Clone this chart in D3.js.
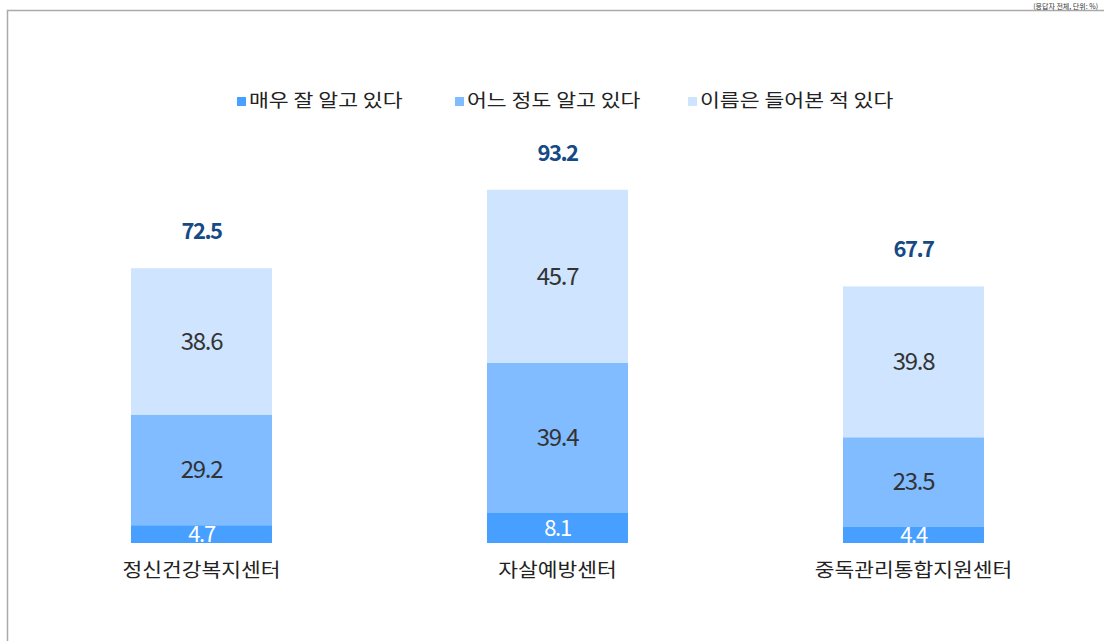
<!DOCTYPE html>
<html>
<head>
<meta charset="utf-8">
<script src="https://cdn.jsdelivr.net/npm/d3@7"></script>
<style>
  body { margin: 0; background: #fff; }
  text { font-family: "Noto Sans CJK KR", "Noto Sans", sans-serif; }
</style>
</head>
<body>
<div id="chart"></div>
<script>
const categories = ["정신건강복지센터", "자살예방센터", "중독관리통합지원센터"];
const seriesNames = ["매우 잘 알고 있다", "어느 정도 알고 있다", "이름은 들어본 적 있다"];
const veryWell = [4.7, 8.1, 4.4];
const somewhat = [29.2, 39.4, 23.5];
const heardOf = [38.6, 45.7, 39.8];
const totals = [72.5, 93.2, 67.7];
const colors = ["#47a0ff", "#80bcff", "#cfe4fe"];

const width = 1104, height = 641;
const baseY = 543;

const svg = d3.select("#chart").append("svg")
    .attr("width", width)
    .attr("height", height);

// stretch korean text a bit, the original font is wider
function widen(sel, k) {
    sel.each(function () {
        const len = this.getComputedTextLength();
        d3.select(this)
            .attr("textLength", len * k)
            .attr("lengthAdjust", "spacingAndGlyphs");
    });
}

// frame
svg.append("path")
    .attr("d", "M7.5," + height + " V10.5 H" + width)
    .attr("fill", "none")
    .attr("stroke", "#aaa")
    .attr("stroke-width", 1.5);

// unit note
svg.append("text")
    .attr("x", 1098)
    .attr("y", 8.5)
    .attr("text-anchor", "end")
    .attr("font-size", 7)
    .attr("fill", "#333")
    .text("(응답자 전체, 단위: %)");

const x = d3.scaleBand()
    .domain(categories)
    .range([23.5, 1091.5])
    .paddingInner(0.604)
    .paddingOuter(0.302);

const y = d3.scaleLinear()
    .domain([0, 100])
    .range([baseY, baseY - 379]);

const rows = categories.map((c, i) => ({
    category: c, s0: veryWell[i], s1: somewhat[i], s2: heardOf[i], total: totals[i]
}));

const stack = d3.stack().keys(["s0", "s1", "s2"]);
const layers = stack(rows);

const g = svg.append("g");

layers.forEach(function (layer, k) {
    g.selectAll(".seg" + k)
        .data(layer)
        .enter()
        .append("rect")
        .attr("x", d => x(d.data.category))
        .attr("y", d => y(d[1]))
        .attr("width", x.bandwidth())
        .attr("height", d => y(d[0]) - y(d[1]))
        .attr("fill", colors[k]);

    g.selectAll(".lab" + k)
        .data(layer)
        .enter()
        .append("text")
        .attr("x", d => x(d.data.category) + x.bandwidth() / 2)
        .attr("y", d => (y(d[0]) + y(d[1])) / 2)
        .attr("dy", "0.36em")
        .attr("text-anchor", "middle")
        .attr("font-size", k === 0 ? 22 : 24)
        .attr("letter-spacing", "-1.3px")
        .attr("fill", k === 0 ? "#fff" : "#333")
        .text(d => (d[1] - d[0]).toFixed(1));
});

// totals
g.selectAll(".total")
    .data(rows)
    .enter()
    .append("text")
    .attr("x", d => x(d.category) + x.bandwidth() / 2)
    .attr("y", d => y(d.total) - 37)
    .attr("dy", "0.36em")
    .attr("text-anchor", "middle")
    .attr("font-size", 22)
    .attr("font-weight", "bold")
    .attr("letter-spacing", "-1.5px")
    .attr("fill", "#154a84")
    .text(d => d.total.toFixed(1));

// category labels
g.selectAll(".cat")
    .data(categories)
    .enter()
    .append("text")
    .attr("x", d => x(d) + x.bandwidth() / 2)
    .attr("y", 570)
    .attr("dy", "0.36em")
    .attr("text-anchor", "middle")
    .attr("font-size", 19)
    .attr("fill", "#222")
    .text(d => d)
    .call(widen, 1.13);

// legend
const legendX = [237, 455, 688];
const legend = svg.append("g");
seriesNames.forEach(function (name, i) {
    legend.append("rect")
        .attr("x", legendX[i])
        .attr("y", 97)
        .attr("width", 9)
        .attr("height", 9)
        .attr("fill", colors[i]);
    legend.append("text")
        .attr("x", legendX[i] + 12)
        .attr("y", 101)
        .attr("dy", "0.36em")
        .attr("font-size", 18)
        .attr("fill", "#222")
        .text(name)
        .call(widen, 1.2);
});
</script>
</body>
</html>
